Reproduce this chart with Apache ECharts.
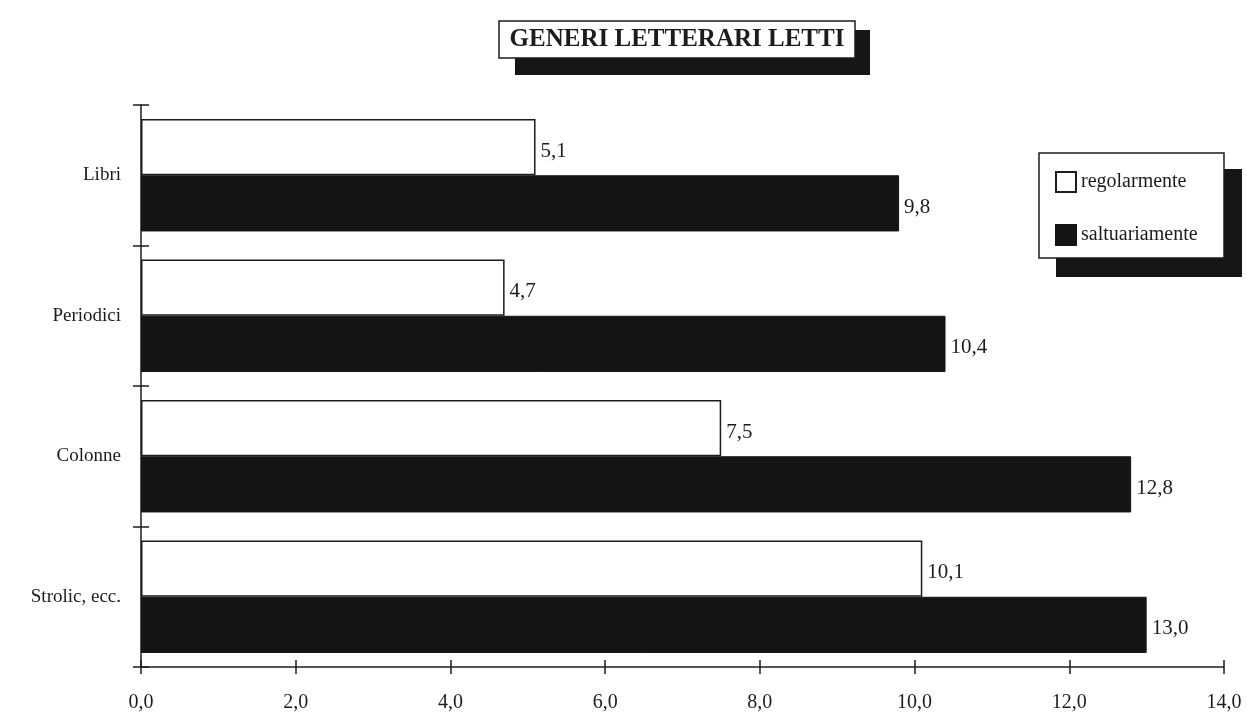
<!DOCTYPE html>
<html>
<head>
<meta charset="utf-8">
<script src="https://cdn.jsdelivr.net/npm/echarts@6/dist/echarts.min.js"></script>
<style>
  html, body { margin: 0; padding: 0; background: #fff; }
  #chart { width: 1247px; height: 721px; }
</style>
</head>
<body>
<div id="chart"></div>
<script>
// Generi letterari letti: quota di chi legge regolarmente / saltuariamente
const categories = ['Libri', 'Periodici', 'Colonne', 'Strolic, ecc.'];
const regolarmente = [5.1, 4.7, 7.5, 10.1];
const saltuariamente = [9.8, 10.4, 12.8, 13.0];
const seriesNames = ['regolarmente', 'saltuariamente'];
const xTicks = [0, 2, 4, 6, 8, 10, 12, 14];
const titleText = 'GENERI LETTERARI LETTI';

const FONT = '"Liberation Serif", "DejaVu Serif", serif';
const INK = '#1c1c1c';
const comma = v => Number(v).toFixed(1).replace('.', ',');

const chart = echarts.init(document.getElementById('chart'));

const valueLabel = {
  show: true,
  position: 'right',
  distance: 5,
  offset: [0, 4],
  color: INK,
  fontFamily: FONT,
  fontSize: 21,
  formatter: p => comma(p.value)
};

chart.setOption({
  backgroundColor: '#ffffff',
  animation: false,
  grid: { left: 141, right: 23, top: 105, bottom: 54, containLabel: false },
  xAxis: [{
    type: 'value',
    min: xTicks[0],
    max: xTicks[xTicks.length - 1],
    interval: 2,
    axisLine: { show: true, lineStyle: { color: INK, width: 1.5 } },
    axisTick: { show: true, length: 7, lineStyle: { color: INK, width: 1.5 } },
    splitLine: { show: false },
    axisLabel: { margin: 26, color: INK, fontFamily: FONT, fontSize: 20, formatter: comma }
  }, {
    type: 'value',
    position: 'bottom',
    min: xTicks[0],
    max: xTicks[xTicks.length - 1],
    interval: 2,
    axisLine: { show: false },
    axisTick: { show: true, inside: true, length: 7, lineStyle: { color: INK, width: 1.5 } },
    splitLine: { show: false },
    axisLabel: { show: false }
  }],
  yAxis: [{
    type: 'category',
    inverse: true,
    data: categories,
    axisLine: { show: true, lineStyle: { color: INK, width: 1.5 } },
    axisTick: { show: true, length: 8, lineStyle: { color: INK, width: 1.5 } },
    axisLabel: { margin: 20, color: INK, fontFamily: FONT, fontSize: 19 }
  }, {
    type: 'category',
    inverse: true,
    position: 'left',
    data: categories,
    axisLine: { show: false },
    axisTick: { show: true, inside: true, length: 8, lineStyle: { color: INK, width: 1.5 } },
    axisLabel: { show: false }
  }],
  legend: {
    orient: 'vertical',
    left: 1050,
    top: 166,
    z: 10,
    itemWidth: 20,
    itemHeight: 20,
    itemGap: 31,
    icon: 'rect',
    data: seriesNames,
    textStyle: { color: INK, fontFamily: FONT, fontSize: 20 }
  },
  graphic: [
    // title box with drop shadow
    { type: 'rect', z: 1, shape: { x: 515, y: 30, width: 355, height: 45 }, style: { fill: '#161616' } },
    { type: 'rect', z: 2, shape: { x: 499, y: 21, width: 356, height: 37 }, style: { fill: '#fff', stroke: INK, lineWidth: 1.5 } },
    { type: 'text', z: 3, x: 677, y: 40, style: { text: titleText, fill: INK, font: 'bold 25px ' + FONT, align: 'center', verticalAlign: 'middle' } },
    // legend box with drop shadow
    { type: 'rect', z: 1, shape: { x: 1056, y: 169, width: 186, height: 108 }, style: { fill: '#161616' } },
    { type: 'rect', z: 2, shape: { x: 1039, y: 153, width: 185, height: 105 }, style: { fill: '#fff', stroke: INK, lineWidth: 1.5 } }
  ],
  series: [{
    name: seriesNames[0],
    type: 'bar',
    data: regolarmente,
    barGap: '0%',
    barCategoryGap: '20%',
    itemStyle: { color: '#ffffff', borderColor: INK, borderWidth: 1.5 },
    label: valueLabel
  }, {
    name: seriesNames[1],
    type: 'bar',
    data: saltuariamente,
    barGap: '0%',
    barCategoryGap: '20%',
    itemStyle: { color: '#141414', borderColor: '#141414', borderWidth: 1 },
    label: valueLabel
  }]
});
</script>
</body>
</html>
